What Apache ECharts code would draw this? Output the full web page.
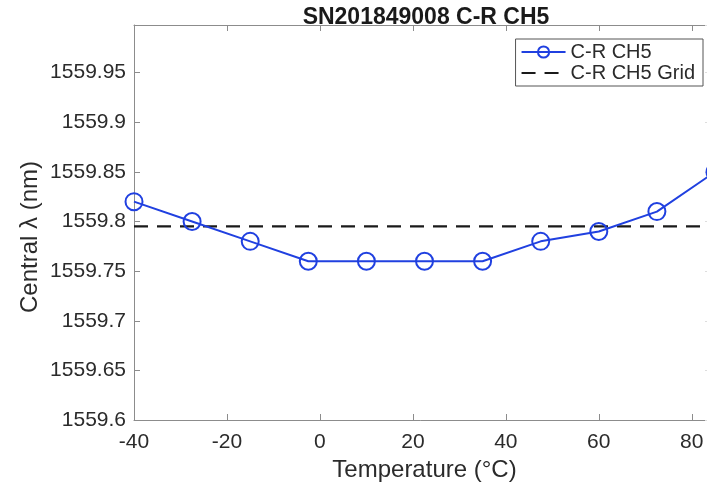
<!DOCTYPE html>
<html>
<head>
<meta charset="utf-8">
<script src="https://cdn.jsdelivr.net/npm/echarts@6/dist/echarts.min.js"></script>
<style>
html,body{margin:0;padding:0;background:#fff;}
#c{width:707px;height:482px;}
</style>
</head>
<body>
<div id="c"></div>
<script>
var temperatures = [-40, -27.5, -15, -2.5, 10, 22.5, 35, 47.5, 60, 72.5, 85];
var centralWl = [1559.82, 1559.80, 1559.78, 1559.76, 1559.76, 1559.76, 1559.76, 1559.78, 1559.79, 1559.81, 1559.85];
var gridValue = 1559.795;
var gridRange = [-40, 85];
var seriesNames = ['C-R CH5', 'C-R CH5 Grid'];
var titleText = 'SN201849008 C-R CH5';
var xName = 'Temperature (°C)';
var yName = 'Central \u03bb (nm)';

var chart = echarts.init(document.getElementById('c'), null, {renderer: 'canvas'});
var FONT = 'Liberation Sans, Arial, Helvetica, sans-serif';
var frame = '#8c8c8c';
var txt = '#2b2b2b';
var blue = '#2040e0';

function yFmt(v) {
  if (Math.abs(v * 20 - Math.round(v * 20)) > 1e-6) return '';
  return String(parseFloat(v.toFixed(2)));
}
function xFmt(v) {
  if (Math.abs(v % 20) > 1e-6) return '';
  return String(v);
}

var option = {
  backgroundColor: '#fff',
  animation: false,
  title: {
    text: titleText,
    left: 421, top: 1, textAlign: 'center',
    textStyle: {fontFamily: FONT, fontWeight: 'bold', fontSize: 23, color: '#1a1a1a'}
  },
  grid: {left: 134, top: 25, right: -8, bottom: 62, containLabel: false, outerBoundsMode: 'none'},
  legend: {
    orient: 'vertical',
    right: 4, top: 39,
    padding: [3, 8, 3, 5],
    itemGap: 1,
    itemWidth: 44,
    itemHeight: 14,
    borderColor: '#555', borderWidth: 1,
    backgroundColor: '#fff',
    textStyle: {fontFamily: FONT, fontSize: 20, color: txt, lineHeight: 19},
    data: [
      {name: seriesNames[0]},
      {name: seriesNames[1], itemStyle: {color: 'rgba(0,0,0,0)', borderColor: 'rgba(0,0,0,0)', borderWidth: 0}}
    ]
  },
  xAxis: [{
    type: 'value', min: gridRange[0], max: gridRange[1], interval: 20,
    position: 'bottom',
    axisLine: {onZero: false, lineStyle: {color: frame, width: 1}},
    axisTick: {inside: true, length: 6, lineStyle: {color: frame}},
    axisLabel: {formatter: xFmt, margin: 12, fontFamily: FONT, fontSize: 21, color: txt},
    splitLine: {show: false},
    name: xName, nameLocation: 'middle', nameGap: 38,
    nameTextStyle: {fontFamily: FONT, fontSize: 24, color: txt}
  }, {
    type: 'value', min: gridRange[0], max: gridRange[1], interval: 20,
    position: 'top',
    axisLine: {show: true, onZero: false, lineStyle: {color: frame, width: 1}},
    axisTick: {inside: true, length: 6, lineStyle: {color: frame}},
    axisLabel: {show: false},
    splitLine: {show: false}
  }],
  yAxis: [{
    type: 'value', min: 1559.6, max: 1559.998, interval: 0.05,
    position: 'left',
    axisLine: {show: true, onZero: false, lineStyle: {color: frame, width: 1}},
    axisTick: {show: true, inside: true, length: 6, lineStyle: {color: frame}},
    axisLabel: {formatter: yFmt, margin: 8, fontFamily: FONT, fontSize: 21, color: txt},
    splitLine: {show: false}
  }, {
    type: 'value', min: 1559.6, max: 1559.998, interval: 0.05,
    position: 'right',
    axisLine: {show: true, onZero: false, lineStyle: {color: frame, width: 1}},
    axisTick: {show: true, inside: true, length: 10, lineStyle: {color: '#ddd'}},
    axisLabel: {show: false},
    splitLine: {show: false}
  }],
  graphic: [{
    type: 'text',
    x: 30, y: 237,
    rotation: Math.PI / 2,
    style: {text: yName, font: '24px ' + FONT, fill: txt, textAlign: 'center', textVerticalAlign: 'middle'}
  }],
  series: [{
    name: seriesNames[1],
    type: 'line',
    xAxisIndex: 0, yAxisIndex: 0,
    data: [[gridRange[0], gridValue], [gridRange[1], gridValue]],
    symbol: 'none',
    lineStyle: {color: '#1a1a1a', width: 2.2, type: [14, 9]},
    itemStyle: {color: '#1a1a1a'},
    z: 2
  }, {
    name: seriesNames[0],
    type: 'line',
    xAxisIndex: 0, yAxisIndex: 0,
    data: temperatures.map(function (t, i) { return [t, centralWl[i]]; }),
    symbol: 'circle',
    symbolSize: 17,
    clip: false,
    lineStyle: {color: blue, width: 2},
    itemStyle: {color: 'rgba(0,0,0,0)', borderColor: blue, borderWidth: 2},
    z: 3
  }]
};
chart.setOption(option);
</script>
</body>
</html>
